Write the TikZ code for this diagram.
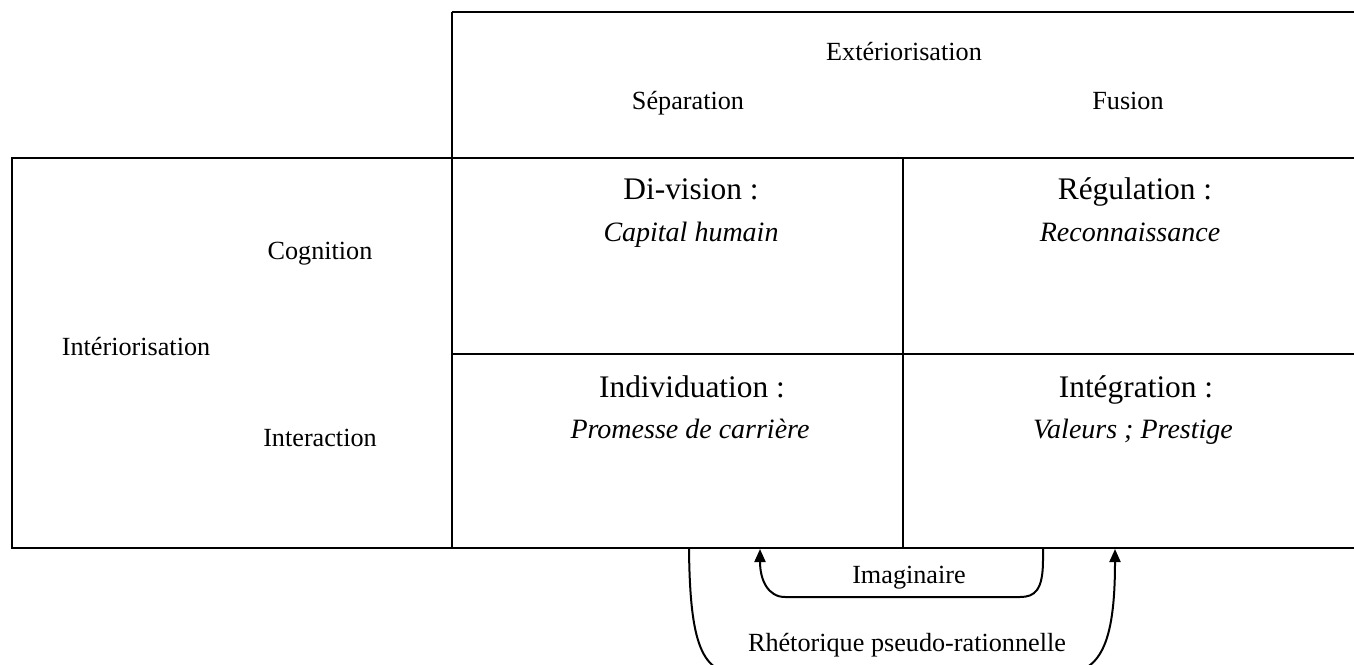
\documentclass[tikz,border=0pt]{standalone}
\usepackage{fontspec}
\setmainfont{Liberation Serif}
\usetikzlibrary{arrows.meta}

\tikzset{
  lbl/.style={anchor=base, inner sep=0pt, font=\fontsize{13.1}{15}\selectfont},
  head/.style={anchor=base, inner sep=0pt, font=\fontsize{15.7}{18}\selectfont},
  ex/.style={anchor=base, inner sep=0pt, font=\fontsize{14}{17}\selectfont\itshape},
  flow/.style={line width=1pt, -{Triangle[length=6.5pt,width=5.5pt]}}
}

\begin{document}
\begin{tikzpicture}[x=0.5pt, y=-0.5pt]
    \useasboundingbox (0,0) rectangle (1354,664);
    \clip (0,0) rectangle (1354,664);

    \begin{scope} [line width=1pt]
      \draw (452,12) -- (1360,12);
      \draw (452,12) -- (452,548);
      \draw (12,158) rectangle (452,548);
      \draw (452,158) -- (1360,158);
      \draw (452,354) -- (1360,354);
      \draw (452,548) -- (1360,548);
      \draw (903,158) -- (903,548);
    \end{scope}

    % column and row headings
    \node[lbl] (exter) at (904,61) {Extériorisation};
    \node[lbl] (separ) at (688,109) {Séparation};
    \node[lbl] (fusion) at (1128,109) {Fusion};
    \node[lbl] (interio) at (136,355) {Intériorisation};
    \node[lbl] (cogn) at (320,259) {Cognition};
    \node[lbl] (interac) at (320,446) {Interaction};

    % cells
    \node[head] (divis) at (691,199) {Di-vision :};
    \node[ex] (capital) at (691,241) {Capital humain};
    \node[head] (regul) at (1135,199) {Régulation :};
    \node[ex] (reconn) at (1130,241) {Reconnaissance};
    \node[head] (indiv) at (692,397) {Individuation :};
    \node[ex] (promesse) at (690,438) {Promesse de carrière};
    \node[head] (integr) at (1136,397) {Intégration :};
    \node[ex] (valeurs) at (1133,438) {Valeurs ; Prestige};

    % loops under the table
    \coordinate (imagA) at (1043,549);
    \coordinate (imagB) at (760,549);
    \coordinate (rhetA) at (689,549);
    \coordinate (rhetB) at (1115,549);
    \draw[flow] (imagA) -- (1043,560) .. controls (1043,590) and (1035,597) .. (1020,597)
      -- (785,597) .. controls (768,597) and (760,580) .. (imagB);
    \draw[flow] (rhetA) .. controls (690,645) and (702,674) .. (740,674)
      -- (1060,674) .. controls (1100,674) and (1115,645) .. (rhetB);
    \node[lbl] (imag) at (909,583) {Imaginaire};
    \node[lbl] (rheto) at (907,651) {Rhétorique pseudo-rationnelle};

      % \draw[help lines](0,0) grid (1354,664);
\end{tikzpicture}
\end{document}
